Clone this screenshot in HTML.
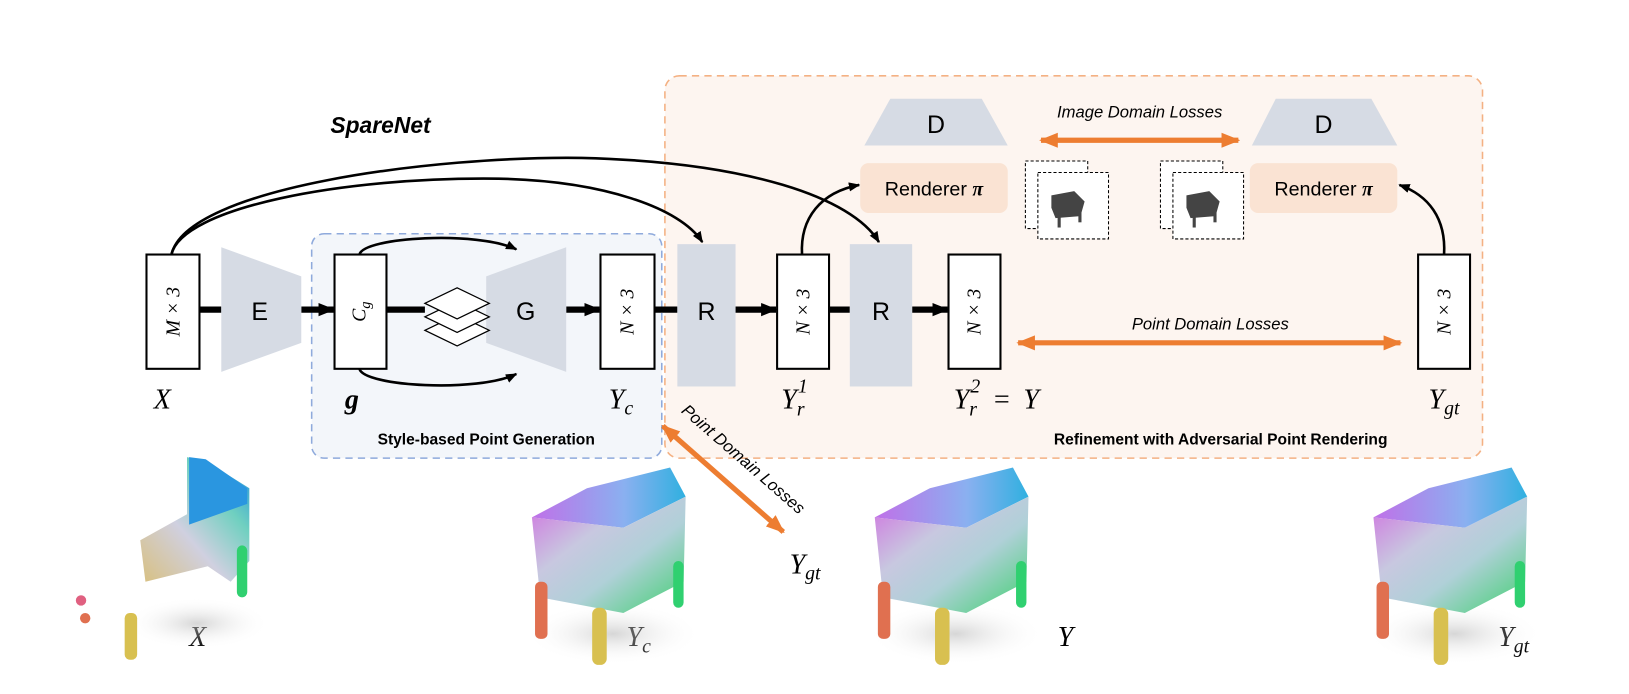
<!DOCTYPE html>
<html><head><meta charset="utf-8"><style>
html,body{margin:0;padding:0;background:#fff;}
svg{display:block;}
text{font-family:"Liberation Sans",sans-serif;}
text.m{font-family:"Liberation Serif",serif;font-style:italic;}
</style></head><body>
<svg width="1629" height="694" viewBox="0 0 1629 694" xmlns="http://www.w3.org/2000/svg">
<defs>
<marker id="ah" viewBox="0 0 10 10" refX="9" refY="5" markerUnits="userSpaceOnUse" markerWidth="11" markerHeight="11" orient="auto"><path d="M0,1 L10,5 L0,9 z" fill="#000"/></marker>
<marker id="as" viewBox="0 0 10 10" refX="9" refY="5" markerUnits="userSpaceOnUse" markerWidth="16" markerHeight="16" orient="auto"><path d="M0,1 L10,5 L0,9 z" fill="#000"/></marker>
<marker id="oa" viewBox="0 0 10 10" refX="9" refY="5" markerUnits="userSpaceOnUse" markerWidth="18" markerHeight="18" orient="auto-start-reverse"><path d="M0,1 L10,5 L0,9 z" fill="#ed7d31"/></marker>
<linearGradient id="cg" x1="0" y1="0" x2="1" y2="1">
<stop offset="0" stop-color="#d070e0"/><stop offset="0.35" stop-color="#c8c8e0"/><stop offset="0.6" stop-color="#b0d0d8"/><stop offset="1" stop-color="#40d070"/></linearGradient>
<linearGradient id="cg2" x1="0" y1="0" x2="1" y2="0">
<stop offset="0" stop-color="#c070e8"/><stop offset="0.6" stop-color="#8ab0f0"/><stop offset="1" stop-color="#30b0e0"/></linearGradient>
<linearGradient id="xg" x1="0" y1="1" x2="1" y2="0">
<stop offset="0" stop-color="#d8c080"/><stop offset="0.4" stop-color="#d0d0e0"/><stop offset="0.7" stop-color="#70d0c0"/><stop offset="1" stop-color="#2090e0"/></linearGradient>
<radialGradient id="sh"><stop offset="0" stop-color="#bbb" stop-opacity=".6"/><stop offset="1" stop-color="#fff" stop-opacity="0"/></radialGradient>
</defs>
<g transform="scale(1.0389)">
<rect x="640" y="73" width="787" height="368" rx="14" fill="#fdf5f0" stroke="#f4b183" stroke-width="1.5" stroke-dasharray="7,5"/>
<rect x="300" y="225" width="337" height="216" rx="12" fill="#f3f6fa" stroke="#8faadc" stroke-width="1.5" stroke-dasharray="7,5"/>

<text x="318" y="128" font-size="22" font-weight="bold" font-style="italic">SpareNet</text>

<g stroke="#000" stroke-width="6">
<line x1="192" y1="298" x2="213" y2="298"/>
<line x1="290" y1="298" x2="321" y2="298" marker-end="url(#as)"/>
<line x1="372" y1="298" x2="409" y2="298"/>
<line x1="471" y1="298" x2="472" y2="298"/>
<line x1="545" y1="298" x2="577" y2="298" marker-end="url(#as)"/>
<line x1="630" y1="298" x2="652" y2="298"/>
<line x1="708" y1="298" x2="747" y2="298" marker-end="url(#as)"/>
<line x1="798" y1="298" x2="818" y2="298"/>
<line x1="878" y1="298" x2="912" y2="298" marker-end="url(#as)"/>
</g>

<polygon points="213,238 290,266 290,330 213,358" fill="#d6dbe4"/>
<text x="250" y="308" font-size="24" text-anchor="middle">E</text>
<polygon points="468,266 545,238 545,358 468,330" fill="#d6dbe4"/>
<text x="506" y="308" font-size="24" text-anchor="middle">G</text>
<rect x="652" y="235" width="56" height="137" fill="#d6dbe4"/>
<text x="680" y="308" font-size="24" text-anchor="middle">R</text>
<rect x="818" y="235" width="60" height="137" fill="#d6dbe4"/>
<text x="848" y="308" font-size="24" text-anchor="middle">R</text>

<g fill="#fff" stroke="#000" stroke-width="1.2">
<polygon points="409,318 440,303 471,318 440,333"/>
<polygon points="409,305 440,290 471,305 440,320"/>
<polygon points="409,292 440,277 471,292 440,307"/>
</g>

<g fill="#fff" stroke="#000" stroke-width="2">
<rect x="141" y="245" width="51" height="110"/>
<rect x="322" y="245" width="50" height="110"/>
<rect x="578" y="245" width="52" height="110"/>
<rect x="748" y="245" width="50" height="110"/>
<rect x="913" y="245" width="50" height="110"/>
<rect x="1365" y="245" width="50" height="110"/>
</g>
<g font-size="19" text-anchor="middle">
<text class="m" transform="translate(173,300) rotate(-90)">M × 3</text>
<text class="m" transform="translate(352,300) rotate(-90)">C<tspan font-size="14" dy="4">g</tspan></text>
<text class="m" transform="translate(610,300) rotate(-90)">N × 3</text>
<text class="m" transform="translate(779,300) rotate(-90)">N × 3</text>
<text class="m" transform="translate(944,300) rotate(-90)">N × 3</text>
<text class="m" transform="translate(1396,300) rotate(-90)">N × 3</text>
</g>

<g fill="none" stroke="#000" stroke-width="2.5">
<path d="M165,245 C175,200 330,170 480,172 C580,174 655,200 676,233" marker-end="url(#ah)"/>
<path d="M165,245 C180,180 420,150 560,152 C720,156 820,190 846,233" marker-end="url(#ah)"/>
<path d="M346,245 C350,228 460,222 497,240" marker-end="url(#ah)"/>
<path d="M346,355 C350,372 460,378 497,360" marker-end="url(#ah)"/>
<path d="M772,245 C770,210 790,185 827,178" marker-end="url(#ah)"/>
<path d="M1390,245 C1392,210 1375,188 1347,178" marker-end="url(#ah)"/>
</g>

<polygon points="857,95 945,95 970,140 832,140" fill="#d6dbe4"/>
<text x="901" y="128" font-size="24" text-anchor="middle">D</text>
<polygon points="1228,95 1320,95 1345,140 1205,140" fill="#d6dbe4"/>
<text x="1274" y="128" font-size="24" text-anchor="middle">D</text>
<rect x="828" y="157" width="142" height="48" rx="8" fill="#fae3d3"/>
<text x="899" y="188" font-size="19" text-anchor="middle">Renderer <tspan font-family="Liberation Serif" font-weight="bold" font-style="italic">π</tspan></text>
<rect x="1203" y="157" width="142" height="48" rx="8" fill="#fae3d3"/>
<text x="1274" y="188" font-size="19" text-anchor="middle">Renderer <tspan font-family="Liberation Serif" font-weight="bold" font-style="italic">π</tspan></text>

<g fill="#fff" stroke="#000" stroke-width="1" stroke-dasharray="3,2">
<rect x="987" y="155" width="60" height="65"/>
<rect x="999" y="166" width="68" height="64"/>
<rect x="1117" y="155" width="60" height="65"/>
<rect x="1129" y="166" width="68" height="64"/>
</g>
<g fill="#444">
<polygon points="1012,188 1034,184 1044,194 1040,208 1016,210 1012,200"/>
<rect x="1018" y="205" width="3" height="14"/><rect x="1038" y="200" width="3" height="14"/>
<polygon points="1142,188 1164,184 1174,194 1170,208 1146,210 1142,200"/>
<rect x="1148" y="205" width="3" height="14"/><rect x="1168" y="200" width="3" height="14"/>
</g>

<g stroke="#ed7d31" stroke-width="5" marker-start="url(#oa)" marker-end="url(#oa)">
<line x1="1002" y1="135" x2="1192" y2="135"/>
<line x1="980" y1="330" x2="1348" y2="330"/>
<line x1="638" y1="410" x2="754" y2="512"/>
</g>
<text x="1097" y="113" font-size="16" font-style="italic" text-anchor="middle">Image Domain Losses</text>
<text x="1165" y="317" font-size="16" font-style="italic" text-anchor="middle">Point Domain Losses</text>
<text transform="translate(712,446) rotate(41)" font-size="16" font-style="italic" text-anchor="middle">Point Domain Losses</text>

<g font-size="27">
<text class="m" x="148" y="393">X</text>
<text class="m" x="332" y="393" font-weight="bold">g</text>
<text class="m" x="586" y="393">Y<tspan font-size="19" dy="6">c</tspan></text>
<text class="m" x="752" y="393">Y</text><text class="m" x="767" y="400" font-size="19">r</text><text class="m" x="768" y="378" font-size="19" font-style="normal">1</text>
<text class="m" x="918" y="393">Y</text><text class="m" x="933" y="400" font-size="19">r</text><text class="m" x="934" y="378" font-size="19" font-style="normal">2</text>
<text class="m" x="955" y="393" font-style="normal">=</text><text class="m" x="985" y="393">Y</text>
<text class="m" x="1375" y="393">Y<tspan font-size="19" dy="6">gt</tspan></text>
<text class="m" x="760" y="552">Y<tspan font-size="19" dy="6">gt</tspan></text>
<text class="m" x="182" y="622">X</text>
<text class="m" x="603" y="622">Y<tspan font-size="19" dy="6">c</tspan></text>
<text class="m" x="1018" y="622">Y</text>
<text class="m" x="1442" y="622">Y<tspan font-size="19" dy="6">gt</tspan></text>
</g>
<text x="468" y="428" font-size="15" font-weight="bold" text-anchor="middle">Style-based Point Generation</text>
<text x="1175" y="428" font-size="15" font-weight="bold" text-anchor="middle">Refinement with Adversarial Point Rendering</text>

<ellipse cx="190" cy="600" rx="70" ry="25" fill="url(#sh)"/>
<polygon points="180,440 200,445 240,470 240,540 222,560 200,545 140,560 135,520 180,495" fill="url(#xg)"/>
<polygon points="182,440 198,442 238,470 238,485 182,505" fill="#2a96e0"/>
<rect x="120" y="590" width="12" height="45" rx="5" fill="#d8c050"/>
<rect x="228" y="525" width="10" height="50" rx="5" fill="#30d070"/>
<circle cx="78" cy="578" r="5" fill="#e06080"/>
<circle cx="82" cy="595" r="5" fill="#e07050"/>
<g id="chair">
<ellipse cx="590" cy="610" rx="85" ry="30" fill="url(#sh)"/>
<polygon points="512,498 565,470 645,450 660,478 600,508" fill="url(#cg2)"/>
<polygon points="512,498 600,508 660,478 658,560 600,590 520,575" fill="url(#cg)"/>
<rect x="515" y="560" width="12" height="55" rx="5" fill="#e07050"/>
<rect x="570" y="585" width="14" height="55" rx="6" fill="#d8c050"/>
<rect x="648" y="540" width="10" height="45" rx="5" fill="#30d070"/>
</g>
<use href="#chair" transform="translate(330,0)"/>
<use href="#chair" transform="translate(810,0)"/>
</g>
</svg>
</body></html>
